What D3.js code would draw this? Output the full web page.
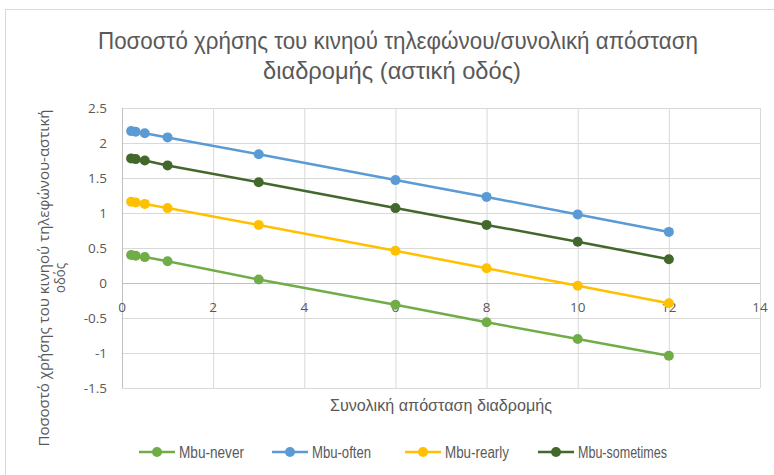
<!DOCTYPE html>
<html>
<head>
<meta charset="utf-8">
<script src="https://cdn.jsdelivr.net/npm/d3@7"></script>
<style>
  body { margin: 0; background: #fff; }
  .grid line { stroke: #d9d9d9; stroke-width: 1; }
  .grid .domain { display: none; }
  .tick-label { fill: #595959; font-family: "Open Sans", "Noto Sans", sans-serif; font-size: 13.5px; }
</style>
</head>
<body>
<svg id="chart" width="774" height="475"></svg>
<script>
// Chart data
const distances = [0.2, 0.3, 0.5, 1, 3, 6, 8, 10, 12];
const seriesNames = ['Mbu-never', 'Mbu-often', 'Mbu-rearly', 'Mbu-sometimes'];
const mbuNever = [0.40, 0.39, 0.37, 0.31, 0.05, -0.31, -0.56, -0.80, -1.04];
const mbuOften = [2.17, 2.16, 2.14, 2.08, 1.84, 1.47, 1.23, 0.98, 0.73];
const mbuRearly = [1.16, 1.15, 1.13, 1.07, 0.83, 0.46, 0.21, -0.04, -0.29];
const mbuSometimes = [1.78, 1.77, 1.75, 1.68, 1.44, 1.07, 0.83, 0.59, 0.34];
const xTicks = [0, 2, 4, 6, 8, 10, 12, 14];
const yTicks = [-1.5, -1, -0.5, 0, 0.5, 1, 1.5, 2, 2.5];
const titleLines = ['Ποσοστό χρήσης του κινηού τηλεφώνου/συνολική  απόσταση', 'διαδρομής (αστική οδός)'];
const yTitleLines = ['Ποσοστό χρήσης του κινηού τηλεφώνου-αστική', 'οδός'];
const xTitle = 'Συνολική απόσταση διαδρομής';

const colors = ['#70ad47', '#5b9bd5', '#ffc000', '#43682b'];
const allSeries = [mbuNever, mbuOften, mbuRearly, mbuSometimes];
const narrow = '"Liberation Sans", "Roboto", sans-serif';

const svg = d3.select('#chart');

// Chart frame
svg.append('rect')
  .attr('x', 5.5).attr('y', 9.5)
  .attr('width', 800).attr('height', 500)
  .attr('fill', '#fff')
  .attr('stroke', '#d9d9d9');

// Scales
const x = d3.scaleLinear().domain([0, 14]).range([122, 760]);
const y = d3.scaleLinear().domain([-1.5, 2.5]).range([388, 108]);

// Gridlines
svg.append('g')
  .attr('class', 'grid')
  .attr('transform', 'translate(0, 388)')
  .call(d3.axisBottom(x).tickValues(xTicks).tickSize(-280).tickFormat(''));

svg.append('g')
  .attr('class', 'grid')
  .attr('transform', 'translate(122, 0)')
  .call(d3.axisLeft(y).tickValues(yTicks).tickSize(-638).tickFormat(''));

// Axis lines (cross at zero)
svg.append('line')
  .attr('x1', x(0)).attr('x2', x(14))
  .attr('y1', Math.round(y(0)) + 0.5).attr('y2', Math.round(y(0)) + 0.5)
  .attr('stroke', '#bfbfbf');
svg.append('line')
  .attr('x1', x(0) + 0.5).attr('x2', x(0) + 0.5)
  .attr('y1', y(2.5)).attr('y2', y(-1.5))
  .attr('stroke', '#bfbfbf');

// Tick labels
svg.append('g')
  .selectAll('text')
  .data(yTicks)
  .enter()
    .append('text')
      .attr('class', 'tick-label')
      .attr('x', 107)
      .attr('y', d => y(d))
      .attr('dy', '0.35em')
      .attr('text-anchor', 'end')
      .text(d => d);

svg.append('g')
  .selectAll('text')
  .data(xTicks)
  .enter()
    .append('text')
      .attr('class', 'tick-label')
      .attr('x', d => x(d))
      .attr('y', y(0) + 29)
      .attr('text-anchor', 'middle')
      .text(d => d);

// Lines and markers
const line = d3.line()
  .x((d, i) => x(distances[i]))
  .y(d => y(d));

allSeries.forEach((values, k) => {
  svg.append('path')
    .attr('d', line(values))
    .attr('fill', 'none')
    .attr('stroke', colors[k])
    .attr('stroke-width', 2.5)
    .attr('stroke-linecap', 'round');

  svg.append('g')
    .selectAll('circle')
    .data(values)
    .enter()
      .append('circle')
        .attr('cx', (d, i) => x(distances[i]))
        .attr('cy', d => y(d))
        .attr('r', 5)
        .attr('fill', colors[k]);
});

// Title (condensed look via textLength)
const titleStart = [98, 263];
const titleWidth = [600, 258];
svg.append('g')
  .selectAll('text')
  .data(titleLines)
  .enter()
    .append('text')
      .attr('x', (d, i) => titleStart[i])
      .attr('y', (d, i) => 49 + i * 30)
      .attr('textLength', (d, i) => titleWidth[i])
      .attr('lengthAdjust', 'spacingAndGlyphs')
      .attr('fill', '#595959')
      .style('font-family', narrow)
      .style('font-size', '24px')
      .text(d => d);

// X axis title
svg.append('text')
  .attr('x', 330)
  .attr('y', 411)
  .attr('textLength', 222)
  .attr('lengthAdjust', 'spacingAndGlyphs')
  .attr('fill', '#595959')
  .style('font-family', narrow)
  .style('font-size', '16px')
  .text(xTitle);

// Y axis title
const yTitleWidth = [337, 30];
svg.append('g')
  .attr('transform', 'translate(0, 278) rotate(-90)')
  .selectAll('text')
  .data(yTitleLines)
  .enter()
    .append('text')
      .attr('x', (d, i) => -yTitleWidth[i] / 2)
      .attr('y', (d, i) => 49 + i * 16)
      .attr('textLength', (d, i) => yTitleWidth[i])
      .attr('lengthAdjust', 'spacingAndGlyphs')
      .attr('fill', '#595959')
      .style('font-family', '"Open Sans", "Noto Sans", sans-serif')
      .style('font-size', '14px')
      .text(d => d);

// Legend
const legendX = [157, 290, 423, 556];
const legendWidth = [65, 59, 64, 89];
const legend = svg.append('g')
  .selectAll('g')
  .data(seriesNames)
  .enter()
    .append('g')
      .attr('transform', (d, i) => `translate(${legendX[i]}, 452)`);

legend.append('line')
  .attr('x1', -18).attr('x2', 18)
  .attr('stroke', (d, i) => colors[i])
  .attr('stroke-width', 2.5);
legend.append('circle')
  .attr('r', 5)
  .attr('fill', (d, i) => colors[i]);
legend.append('text')
  .attr('x', 22)
  .attr('dy', '0.35em')
  .attr('textLength', (d, i) => legendWidth[i])
  .attr('lengthAdjust', 'spacingAndGlyphs')
  .attr('fill', '#595959')
  .style('font-family', narrow)
  .style('font-size', '16px')
  .text(d => d);
</script>
</body>
</html>
